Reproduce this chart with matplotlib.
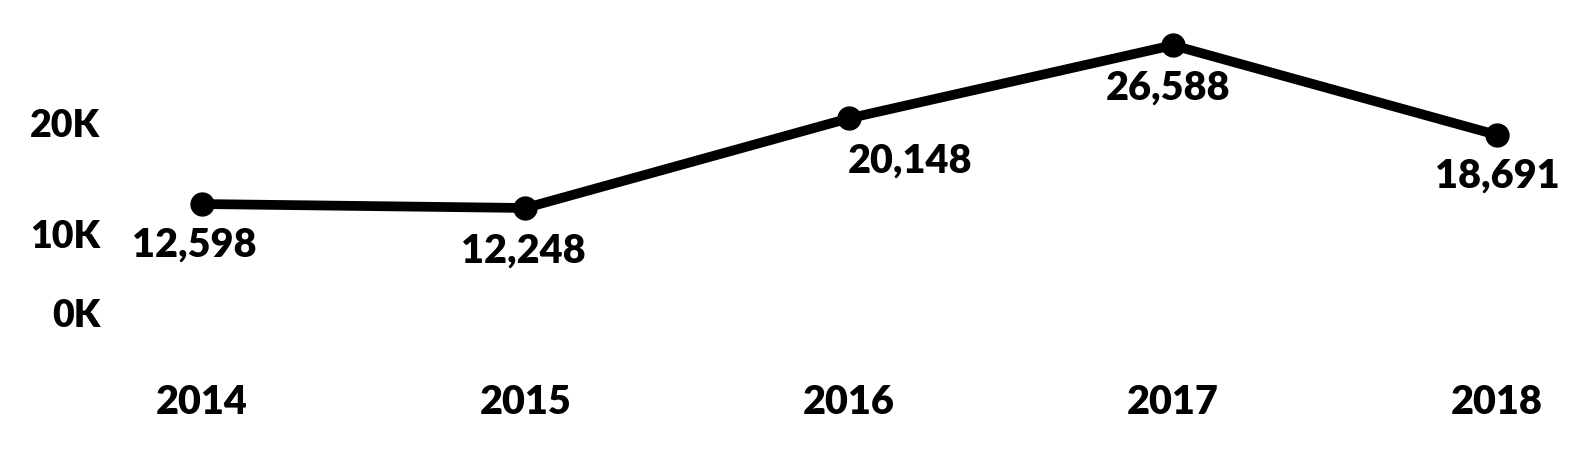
import matplotlib.pyplot as plt
from matplotlib.transforms import offset_copy

years = [2014, 2015, 2016, 2017, 2018]
counts = [12598, 12248, 20148, 26588, 18691]
y_ticks = [0, 10000, 20000]
y_tick_labels = ["0K", "10K", "20K"]

# label offsets in pixels (dx, dy) relative to each point
label_dx = [-7, -2, 61, -5, 1]
label_dy = [-41, -43, -43, -43, -41]

plt.rcParams['font.family'] = ['Lato', 'DejaVu Sans']

W, H = 1579, 462
left_px, zero_px = 110, 347
fig = plt.figure(figsize=(W / 100, H / 100), dpi=100)
ax = fig.add_axes([left_px / W, 1 - zero_px / H, 1 - left_px / W, zero_px / H])

ax.plot(years, counts, color="black", linewidth=7, marker="o",
        markersize=16.5, solid_capstyle="round", clip_on=False)

for x, y, dx, dy in zip(years, counts, label_dx, label_dy):
    ax.annotate(f"{y:,}", (x, y), xytext=(dx, dy), textcoords="offset pixels",
                ha="center", va="center", fontsize=28.5, fontweight="heavy")

step = 323.7
ax.set_xlim(2014 - (201.7 - left_px) / step, 2018 + (W - 1496.5) / step)
ax.set_ylim(0, zero_px / 11.35 * 1000)
ax.set_xticks(years)
ax.set_xticklabels([str(y) for y in years], fontsize=28.5, fontweight="heavy")
ax.set_yticks(y_ticks)
ax.set_yticklabels(y_tick_labels, fontsize=27, fontweight="heavy")
ax.tick_params(length=0, axis="y", pad=7)
ax.tick_params(length=0, axis="x", pad=27)

for s in ax.spines.values():
    s.set_visible(False)

# the reference draws 0K well above its tick and 20K slightly below
shifts = [34, 0, -3]
for lab, sh in zip(ax.get_yticklabels(), shifts):
    lab.set_transform(offset_copy(lab.get_transform(), fig=fig, x=0, y=sh, units="dots"))

fig.savefig("out.png", dpi=100)
